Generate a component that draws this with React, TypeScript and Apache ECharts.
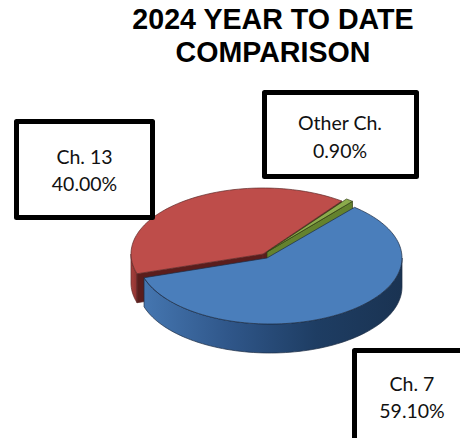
import React, { useEffect, useRef } from "react";
import * as echarts from "echarts";

const categories = ["Ch. 13", "Other Ch.", "Ch. 7"];
const shares = [40.0, 0.9, 59.1];

const START_DEG = 252.6;
const DEPTH = 29;
const FONT = "Lato";

const looks = [
  { cx: 263, cy: 254, ax: 263, ay: 254, rx: 132, ry: 66, top: "#be4d4a", cut: "#5a1d1c", cuts: [0, 1], side: ["#a8403d", "#8c3230"], line: "#5e2a28" },
  { cx: 266, cy: 252, ax: 267, ay: 252, rx: 135, ry: 66, top: "#8cab4c", cut: "#64822e", cuts: [1], side: ["#5c7a2a", "#4c6622"], line: "#2f3d14" },
  { cx: 270, cy: 258, ax: 267, ay: 258, rx: 132, ry: 66, top: "#4a7ebb", cut: "#2d5488", cuts: [], side: ["#4576b0", "#2f5689", "#1e3d63", "#1a3352"], line: "#1c2c44" },
];

const boxes = [
  { x: 16.5, y: 121.5, w: 136, h: 96, tx: 84.5, ty: 170 },
  { x: 264.5, y: 92.5, w: 152, h: 84, tx: 340, ty: 136.5 },
  { x: 354.5, y: 350.5, w: 115, h: 95, tx: 412, ty: 397 },
];

export default function App() {
  const ref = useRef<HTMLDivElement>(null);
  useEffect(() => {
    const chart = echarts.init(ref.current!, undefined, { renderer: "svg" });
    const total = shares.reduce((a, b) => a + b, 0);

    const renderItem = (params: any, api: any) => {
      const i = params.dataIndex;
      const k = looks[i];
      let before = 0;
      for (let j = 0; j < i; j++) before += shares[j];
      const a0 = START_DEG + (before / total) * 360;
      const a1 = a0 + (api.value(0) / total) * 360;
      const pt = (deg: number, dz = 0): number[] => {
        const t = (deg * Math.PI) / 180;
        return [k.cx + k.rx * Math.sin(t), k.cy - k.ry * Math.cos(t) + dz];
      };
      const arc = (from: number, to: number, dz = 0) => {
        const n = Math.max(2, Math.ceil(Math.abs(to - from) / 2));
        const out: number[][] = [];
        for (let s = 0; s <= n; s++) out.push(pt(from + ((to - from) * s) / n, dz));
        return out;
      };
      const children: any[] = [];
      // outer wall: only the front half of the rim (90..270 degrees, also modulo 360)
      const lo = Math.max(a0, 90);
      const hi = Math.min(a1, 270);
      const lo2 = Math.max(a0, 450);
      const hi2 = Math.min(a1, 630);
      const spans = [[lo, hi], [lo2, hi2]].filter((s) => s[1] > s[0]);
      const stops = k.side.map((color, n) => ({ offset: n / (k.side.length - 1), color }));
      spans.forEach(([f, t]) => {
        children.push({
          type: "polygon",
          shape: { points: [...arc(f, t), ...arc(t, f, DEPTH)] },
          style: {
            fill: new echarts.graphic.LinearGradient(0, 0, 1, 0, stops),
            stroke: k.line,
            lineWidth: 0.7,
          },
        });
      });
      // cut faces that look towards the viewer
      k.cuts.forEach((which) => {
        const rim = pt(which === 0 ? a0 : a1);
        children.push({
          type: "polygon",
          shape: {
            points: [[k.ax, k.ay], rim, [rim[0], rim[1] + DEPTH], [k.ax, k.ay + DEPTH]],
          },
          style: { fill: k.cut, stroke: k.line, lineWidth: 0.7 },
        });
      });
      // top face
      children.push({
        type: "polygon",
        shape: { points: [[k.ax, k.ay], ...arc(a0, a1)] },
        style: { fill: k.top, stroke: k.line, lineWidth: 0.7 },
      });
      return { type: "group", children };
    };

    const graphics: any[] = [];
    categories.forEach((name, i) => {
      const b = boxes[i];
      graphics.push({
        type: "rect",
        z: 10,
        shape: { x: b.x, y: b.y, width: b.w, height: b.h },
        style: { fill: "#ffffff", stroke: "#000000", lineWidth: 5, lineJoin: "round" },
      });
      graphics.push({
        type: "text",
        z: 11,
        x: b.tx,
        y: b.ty,
        style: {
          text: `${name}\n${shares[i].toFixed(2)}%`,
          fontFamily: FONT,
          fontSize: 19.5,
          lineHeight: 27.5,
          fill: "#111111",
          align: "center",
          verticalAlign: "middle",
        },
      });
    });

    chart.setOption({
      animation: false,
      backgroundColor: "#ffffff",
      title: {
        text: "2024 YEAR TO DATE\nCOMPARISON",
        left: 268,
        top: -3,
        textAlign: "center",
        textStyle: {
          fontFamily: "Liberation Sans",
          fontWeight: "bold",
          fontSize: 28.6,
          lineHeight: 33,
          color: "#000000",
        },
      },
      series: [
        {
          type: "custom",
          coordinateSystem: "none",
          silent: true,
          renderItem,
          data: shares.map((v, i) => ({ name: categories[i], value: [v] })),
        },
      ],
      graphic: graphics,
    });
    return () => chart.dispose();
  }, []);
  return (
    <div
      ref={ref}
      style={{ position: "absolute", left: 0, top: 0, width: 460, height: 438 }}
    />
  );
}
